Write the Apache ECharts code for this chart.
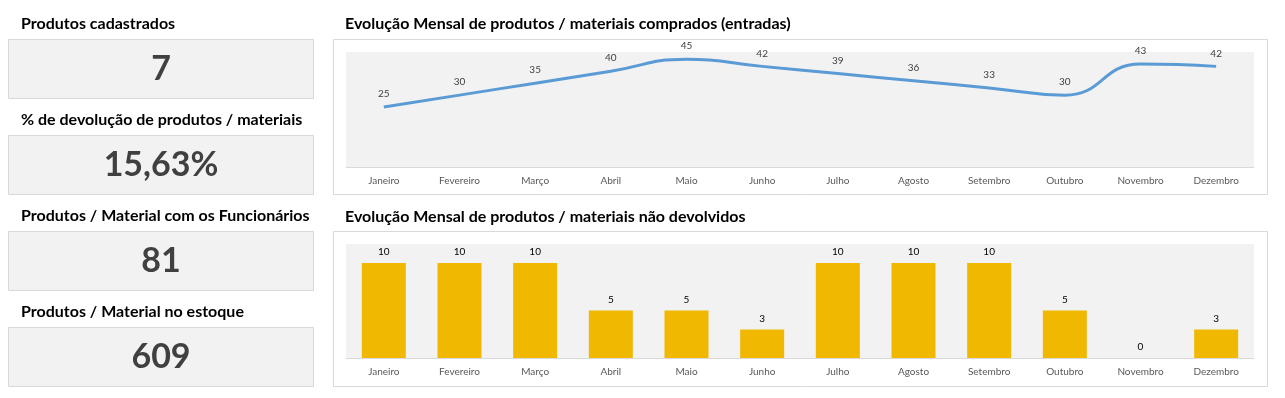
<!DOCTYPE html>
<html>
<head>
<meta charset="utf-8">
<script src="https://cdn.jsdelivr.net/npm/echarts@6/dist/echarts.min.js"></script>
<style>
  html, body { margin: 0; padding: 0; background: #fff; }
  #main { width: 1285px; height: 398px; }
</style>
</head>
<body>
<div id="main"></div>
<script>
// dados
var meses = ["Janeiro", "Fevereiro", "Março", "Abril", "Maio", "Junho",
  "Julho", "Agosto", "Setembro", "Outubro", "Novembro", "Dezembro"];
var comprados = [25, 30, 35, 40, 45, 42, 39, 36, 33, 30, 43, 42];
var naoDevolvidos = [10, 10, 10, 5, 5, 3, 10, 10, 10, 5, 0, 3];

var kpiTitulos = [
  "Produtos cadastrados",
  "% de devolução de produtos / materiais",
  "Produtos / Material com os Funcionários",
  "Produtos / Material no estoque"
];
var kpiValores = ["7", "15,63%", "81", "609"];

var fonte = "Lato, 'Open Sans', sans-serif";

var chart = echarts.init(document.getElementById("main"));

// caixas da esquerda
var graficos = [];
kpiTitulos.forEach(function (t, i) {
  var y0 = 39 + i * 96;
  graficos.push({
    type: "text",
    x: 21,
    y: y0 - 15,
    style: { text: t, fill: "#000", font: "bold 16px " + fonte, verticalAlign: "middle" }
  });
  graficos.push({
    type: "rect",
    shape: { x: 8.5, y: y0 + 0.5, width: 305, height: 59 },
    style: { fill: "#f2f2f2", stroke: "#d9d9d9", lineWidth: 1 }
  });
  graficos.push({
    type: "text",
    x: 161,
    y: y0 + 30,
    style: {
      text: kpiValores[i],
      fill: "#404040",
      font: "bold 34px " + fonte,
      align: "center",
      verticalAlign: "middle"
    }
  });
});

// titulos e bordas dos graficos
graficos.push({
  type: "text",
  x: 345,
  y: 24,
  style: { text: "Evolução Mensal de produtos / materiais comprados (entradas)", fill: "#000", font: "bold 16px " + fonte, verticalAlign: "middle" }
});
graficos.push({
  type: "text",
  x: 345,
  y: 216.5,
  style: { text: "Evolução Mensal de produtos / materiais não devolvidos", fill: "#000", font: "bold 16px " + fonte, verticalAlign: "middle" }
});
graficos.push({
  type: "rect",
  shape: { x: 333.5, y: 39.5, width: 934, height: 155 },
  style: { fill: "none", stroke: "#d9d9d9", lineWidth: 1 }
});
graficos.push({
  type: "rect",
  shape: { x: 333.5, y: 231.5, width: 934, height: 155 },
  style: { fill: "none", stroke: "#d9d9d9", lineWidth: 1 }
});

var eixoX = function (idx) {
  return {
    type: "category",
    gridIndex: idx,
    data: meses,
    boundaryGap: true,
    axisLine: { lineStyle: { color: "#d9d9d9", width: 1 } },
    axisTick: { show: false },
    axisLabel: { color: "#595959", fontSize: 10, fontFamily: fonte, margin: 9, interval: 0 }
  };
};

var option = {
  animation: false,
  graphic: graficos,
  grid: [
    { left: 346, top: 52, width: 908, height: 115, show: true, backgroundColor: "#f2f2f2", borderWidth: 0 },
    { left: 346, top: 244, width: 908, height: 114, show: true, backgroundColor: "#f2f2f2", borderWidth: 0 }
  ],
  xAxis: [eixoX(0), eixoX(1)],
  yAxis: [
    { type: "value", gridIndex: 0, min: 0, max: 48, show: false, splitLine: { show: false } },
    { type: "value", gridIndex: 1, min: 0, max: 12, show: false, splitLine: { show: false } }
  ],
  series: [
    {
      name: "Comprados",
      type: "line",
      xAxisIndex: 0,
      yAxisIndex: 0,
      data: comprados,
      smooth: 0.5,
      symbol: "circle",
      symbolSize: 0,
      showSymbol: true,
      lineStyle: { color: "#5b9bd5", width: 3 },
      itemStyle: { color: "#5b9bd5" },
      label: { show: true, position: "top", distance: 8, color: "#404040", fontSize: 10, fontFamily: fonte }
    },
    {
      name: "Não devolvidos",
      type: "bar",
      xAxisIndex: 1,
      yAxisIndex: 1,
      data: naoDevolvidos,
      barWidth: 44,
      itemStyle: { color: "#f0b800" },
      label: { show: true, position: "top", distance: 6, color: "#000", fontSize: 10, fontFamily: fonte }
    }
  ]
};

chart.setOption(option);
</script>
</body>
</html>
